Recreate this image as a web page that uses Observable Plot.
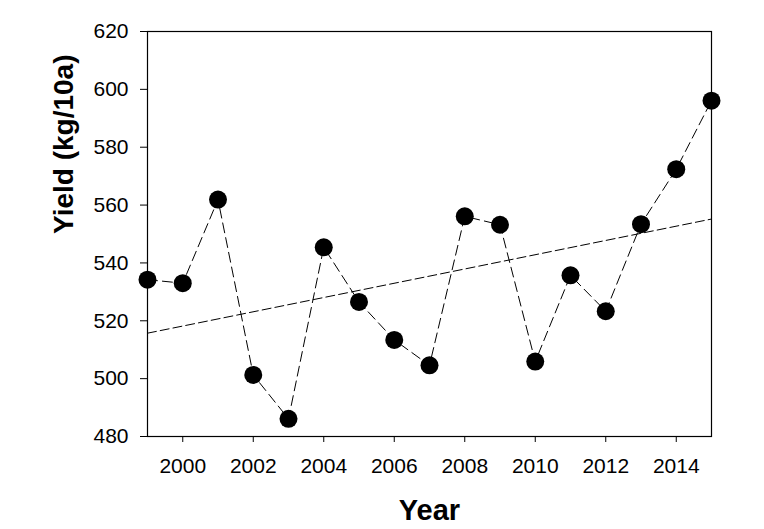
<!DOCTYPE html>
<html>
<head>
<meta charset="utf-8">
<script src="https://cdn.jsdelivr.net/npm/d3@7"></script>
<script src="https://cdn.jsdelivr.net/npm/@observablehq/plot@0.6"></script>
<style>
  html, body { margin: 0; padding: 0; background: #fff; }
</style>
</head>
<body>
<div id="chart"></div>
<script>
const years = [1999, 2000, 2001, 2002, 2003, 2004, 2005, 2006, 2007, 2008, 2009, 2010, 2011, 2012, 2013, 2014, 2015];
const yields = [534.2, 533.0, 561.9, 501.3, 486.1, 545.4, 526.5, 513.4, 504.6, 556.1, 553.2, 505.9, 535.7, 523.3, 553.4, 572.4, 596.1];
const xTicks = [2000, 2002, 2004, 2006, 2008, 2010, 2012, 2014];
const yTicks = [480, 500, 520, 540, 560, 580, 600, 620];
const xTitle = "Year";
const yTitle = "Yield (kg/10a)";

const data = years.map((year, i) => ({year, yield: yields[i]}));
const font = "'Liberation Sans', Arial, Helvetica, sans-serif";

const chart = Plot.plot({
  width: 764,
  height: 529,
  marginLeft: 147,
  marginRight: 53,
  marginTop: 31,
  marginBottom: 93,
  style: {fontFamily: font, fontSize: "21px", color: "#000", background: "#fff", overflow: "visible"},
  x: {domain: [1999, 2015]},
  y: {domain: [480, 620]},
  marks: [
    Plot.axisX({ticks: xTicks, tickFormat: d => String(d), tickSize: 6, tickPadding: 16, label: null, fontSize: 21, stroke: "#000", fill: "#000"}),
    Plot.axisY({ticks: yTicks, tickSize: 7, tickPadding: 12, label: null, fontSize: 21, stroke: "#000", fill: "#000"}),
    Plot.frame({stroke: "#000", strokeWidth: 1.2}),
    Plot.ruleY([480], {stroke: "#000", strokeWidth: 1.2, insetLeft: -6}),
    Plot.linearRegressionY(data, {x: "year", y: "yield", ci: 0, stroke: "#000", strokeWidth: 1, strokeDasharray: "9,4"}),
    Plot.line(data, {x: "year", y: "yield", stroke: "#000", strokeWidth: 1, strokeDasharray: "10,5"}),
    Plot.dot(data, {x: "year", y: "yield", r: 9, fill: "#000", stroke: "none"}),
    Plot.text([xTitle], {frameAnchor: "bottom", dy: 83, lineAnchor: "bottom", fontSize: 29, fontWeight: "bold", fill: "#000"}),
    Plot.text([yTitle], {frameAnchor: "left", rotate: -90, dx: -75, lineAnchor: "bottom", fontSize: 28, fontWeight: "bold", fill: "#000"})
  ]
});
document.getElementById("chart").appendChild(chart);
</script>
</body>
</html>
